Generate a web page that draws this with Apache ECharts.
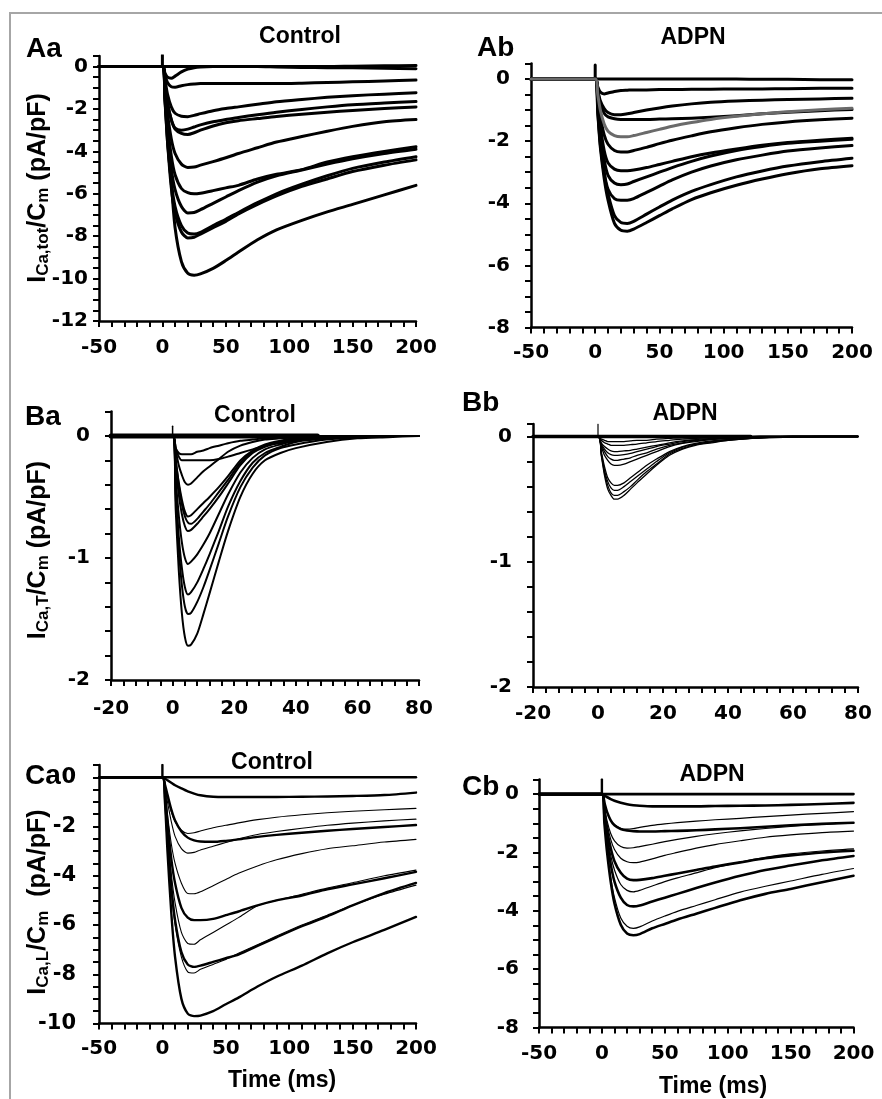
<!DOCTYPE html>
<html><head><meta charset="utf-8">
<script src="https://cdn.jsdelivr.net/npm/echarts/dist/echarts.min.js"></script>
<style>html,body{margin:0;padding:0;background:#fff}#c{width:882px;height:1099px}</style>
</head><body><div id="c"></div>
<script>
// ---------- time bases ----------
const tAC = [-50, 0, 2, 4, 7, 10, 15, 20, 25, 30, 40, 50, 60, 75, 90, 110, 130, 150, 175, 200];
const tB  = [-20, 0, 1, 2, 3, 4, 5, 6, 8, 10, 12, 15, 18, 22, 26, 30, 35, 40, 50, 60, 70, 80];

// ---------- Aa: I_Ca,tot control ----------
const Aa = [
 [0,0,0,0,0,0,0,0,0,0,0,0,0,0,0,0,0,0.02,0.04,0.05],
 [0,0,-0.3,-0.5,-0.55,-0.45,-0.25,-0.12,-0.05,-0.02,0,0,0,0,-0.02,-0.04,-0.05,-0.06,-0.08,-0.1],
 [0,0,-0.4,-0.75,-0.95,-0.97,-0.9,-0.85,-0.82,-0.8,-0.8,-0.8,-0.8,-0.8,-0.8,-0.78,-0.75,-0.72,-0.68,-0.63],
 [0,0,-0.6,-1.3,-1.9,-2.2,-2.34,-2.36,-2.3,-2.22,-2.08,-1.98,-1.9,-1.78,-1.66,-1.55,-1.45,-1.37,-1.3,-1.23],
 [0,0,-0.8,-1.7,-2.5,-2.9,-3.0,-2.95,-2.85,-2.75,-2.6,-2.5,-2.4,-2.27,-2.15,-2.02,-1.9,-1.8,-1.72,-1.65],
 [0,0,-0.8,-1.7,-2.5,-2.95,-3.15,-3.2,-3.12,-3.0,-2.8,-2.65,-2.55,-2.45,-2.35,-2.25,-2.15,-2.07,-1.98,-1.9],
 [0,0,-1.0,-2.2,-3.4,-4.1,-4.6,-4.76,-4.74,-4.65,-4.48,-4.3,-4.1,-3.83,-3.56,-3.3,-3.05,-2.82,-2.6,-2.5],
 [0,0,-1.2,-2.7,-4.2,-5.1,-5.75,-5.95,-6.0,-5.97,-5.85,-5.72,-5.6,-5.3,-5.08,-4.86,-4.5,-4.25,-4.0,-3.78],
 [0,0,-1.3,-3.0,-4.8,-5.8,-6.6,-6.9,-6.88,-6.75,-6.45,-6.15,-5.85,-5.45,-5.15,-4.88,-4.6,-4.35,-4.1,-3.9],
 [0,0,-1.4,-3.3,-5.4,-6.6,-7.5,-7.85,-7.9,-7.82,-7.5,-7.2,-6.88,-6.42,-6.0,-5.55,-5.15,-4.8,-4.5,-4.25],
 [0,0,-1.5,-3.5,-5.7,-6.9,-7.8,-8.08,-8.05,-7.9,-7.6,-7.3,-6.95,-6.5,-6.1,-5.65,-5.3,-4.95,-4.65,-4.4],
 [0,0,-1.6,-3.5,-5.5,-7.6,-9.2,-9.75,-9.84,-9.78,-9.52,-9.15,-8.75,-8.17,-7.7,-7.25,-6.85,-6.5,-6.05,-5.6]
];
// ---------- Ab: I_Ca,tot ADPN (index 4 is the grey trace) ----------
const Ab = [
 [0,0,0,0,0,0,0,0,0,0,0,0,0,0,0,0,-0.01,-0.01,-0.02,-0.02],
 [0,0,-0.25,-0.42,-0.48,-0.45,-0.4,-0.37,-0.36,-0.35,-0.35,-0.34,-0.34,-0.33,-0.33,-0.32,-0.32,-0.31,-0.3,-0.3],
 [0,0,-0.35,-0.7,-0.95,-1.08,-1.15,-1.15,-1.12,-1.08,-1.0,-0.93,-0.87,-0.8,-0.75,-0.71,-0.68,-0.66,-0.64,-0.62],
 [0,0,-0.4,-0.8,-1.1,-1.22,-1.28,-1.3,-1.3,-1.3,-1.3,-1.29,-1.28,-1.26,-1.23,-1.18,-1.12,-1.07,-1.02,-0.98],
 [0,0,-0.5,-1.0,-1.45,-1.68,-1.82,-1.86,-1.86,-1.82,-1.72,-1.62,-1.52,-1.4,-1.3,-1.2,-1.12,-1.05,-0.99,-0.94],
 [0,0,-0.6,-1.2,-1.8,-2.1,-2.3,-2.35,-2.35,-2.3,-2.2,-2.08,-1.97,-1.83,-1.7,-1.57,-1.46,-1.38,-1.31,-1.26],
 [0,0,-0.7,-1.5,-2.3,-2.7,-2.9,-2.95,-2.95,-2.93,-2.85,-2.75,-2.65,-2.5,-2.38,-2.25,-2.13,-2.04,-1.97,-1.91],
 [0,0,-0.8,-1.7,-2.6,-3.1,-3.35,-3.4,-3.38,-3.3,-3.15,-3.0,-2.85,-2.65,-2.48,-2.3,-2.17,-2.07,-2.0,-1.94],
 [0,0,-0.9,-2.0,-3.0,-3.55,-3.85,-3.9,-3.9,-3.85,-3.65,-3.45,-3.25,-3.0,-2.8,-2.6,-2.45,-2.32,-2.22,-2.14],
 [0,0,-1.05,-2.1,-3.05,-3.7,-4.4,-4.62,-4.65,-4.58,-4.35,-4.12,-3.9,-3.62,-3.4,-3.15,-2.96,-2.8,-2.66,-2.55],
 [0,0,-1.1,-2.2,-3.2,-3.9,-4.65,-4.87,-4.9,-4.83,-4.62,-4.4,-4.18,-3.88,-3.66,-3.42,-3.22,-3.05,-2.89,-2.79]
];
// ---------- Ba: I_Ca,T control ----------
const Ba = [
 [0,0,0,0,0,0,0,0,0,0,0,0,0,0,0,0,0,0,0,0,0,0],
 [0,0,-0.1,-0.14,-0.15,-0.15,-0.15,-0.15,-0.13,-0.12,-0.1,-0.08,-0.06,-0.04,-0.03,-0.02,-0.015,-0.01,0,0,0,0],
 [0,0,-0.1,-0.17,-0.2,-0.2,-0.2,-0.2,-0.2,-0.2,-0.2,-0.19,-0.17,-0.14,-0.11,-0.08,-0.06,-0.04,-0.02,-0.01,0,0],
 [0,0,-0.12,-0.24,-0.32,-0.38,-0.4,-0.39,-0.34,-0.29,-0.25,-0.19,-0.13,-0.08,-0.05,-0.03,-0.02,-0.01,0,0,0,0],
 [0,0,-0.2,-0.38,-0.52,-0.62,-0.66,-0.65,-0.6,-0.55,-0.5,-0.42,-0.33,-0.2,-0.12,-0.07,-0.04,-0.02,-0.01,0,0,0],
 [0,0,-0.2,-0.4,-0.56,-0.66,-0.71,-0.72,-0.68,-0.62,-0.56,-0.46,-0.36,-0.22,-0.13,-0.08,-0.05,-0.03,-0.01,0,0,0],
 [0,0,-0.25,-0.48,-0.64,-0.74,-0.78,-0.77,-0.72,-0.66,-0.6,-0.5,-0.39,-0.24,-0.14,-0.09,-0.05,-0.03,-0.01,0,0,0],
 [0,0,-0.35,-0.65,-0.87,-1.0,-1.05,-1.03,-0.97,-0.89,-0.8,-0.64,-0.48,-0.3,-0.18,-0.11,-0.07,-0.04,-0.02,-0.01,0,0],
 [0,0,-0.45,-0.82,-1.08,-1.24,-1.3,-1.28,-1.2,-1.09,-0.97,-0.78,-0.58,-0.37,-0.22,-0.14,-0.09,-0.05,-0.02,-0.01,0,0],
 [0,0,-0.5,-0.92,-1.22,-1.4,-1.46,-1.45,-1.36,-1.24,-1.1,-0.88,-0.66,-0.42,-0.26,-0.16,-0.1,-0.07,-0.03,-0.01,0,0],
 [0,0,-0.6,-1.1,-1.45,-1.65,-1.72,-1.71,-1.62,-1.46,-1.29,-1.03,-0.78,-0.5,-0.31,-0.2,-0.14,-0.1,-0.05,-0.02,-0.01,0]
];
// ---------- Bb: I_Ca,T ADPN ----------
const Bb = [
 [0,0,0,0,0,0,0,0,0,0,0,0,0,0,0,0,0,0,0,0,0,0],
 [0,0,-0.02,-0.03,-0.04,-0.04,-0.04,-0.04,-0.04,-0.035,-0.03,-0.03,-0.02,-0.015,-0.01,-0.01,-0.005,0,0,0,0,0],
 [0,0,-0.03,-0.05,-0.06,-0.07,-0.07,-0.07,-0.07,-0.065,-0.06,-0.05,-0.04,-0.03,-0.02,-0.015,-0.01,-0.005,0,0,0,0],
 [0,0,-0.05,-0.08,-0.1,-0.115,-0.12,-0.12,-0.115,-0.11,-0.1,-0.085,-0.07,-0.05,-0.035,-0.025,-0.015,-0.01,0,0,0,0],
 [0,0,-0.06,-0.1,-0.13,-0.145,-0.15,-0.15,-0.145,-0.135,-0.12,-0.1,-0.08,-0.06,-0.04,-0.03,-0.02,-0.01,0,0,0,0],
 [0,0,-0.07,-0.12,-0.16,-0.18,-0.19,-0.19,-0.18,-0.17,-0.15,-0.13,-0.1,-0.07,-0.05,-0.035,-0.02,-0.015,-0.005,0,0,0],
 [0,0,-0.08,-0.15,-0.19,-0.22,-0.23,-0.23,-0.22,-0.2,-0.18,-0.15,-0.12,-0.08,-0.055,-0.04,-0.025,-0.015,-0.005,0,0,0],
 [0,0,-0.12,-0.24,-0.33,-0.37,-0.39,-0.39,-0.37,-0.33,-0.29,-0.23,-0.18,-0.12,-0.08,-0.055,-0.035,-0.025,-0.01,0,0,0],
 [0,0,-0.13,-0.27,-0.36,-0.41,-0.43,-0.43,-0.4,-0.36,-0.32,-0.26,-0.2,-0.13,-0.085,-0.06,-0.04,-0.025,-0.01,0,0,0],
 [0,0,-0.14,-0.29,-0.39,-0.45,-0.47,-0.47,-0.44,-0.4,-0.35,-0.28,-0.22,-0.14,-0.095,-0.065,-0.045,-0.03,-0.01,-0.005,0,0],
 [0,0,-0.15,-0.31,-0.42,-0.47,-0.5,-0.5,-0.47,-0.42,-0.37,-0.3,-0.23,-0.15,-0.1,-0.07,-0.05,-0.03,-0.01,-0.005,0,0]
];
// ---------- Ca: I_Ca,L control ----------
const Ca = [
 [0,0,0,0,0,0,0,0,0,0,0,0,0,0,0,0,0,0,0,0],
 [0,0,-0.05,-0.12,-0.22,-0.32,-0.45,-0.57,-0.66,-0.73,-0.79,-0.8,-0.8,-0.8,-0.8,-0.79,-0.78,-0.76,-0.72,-0.62],
 [0,0,-0.3,-0.8,-1.4,-1.8,-2.15,-2.28,-2.25,-2.18,-2.05,-1.95,-1.85,-1.72,-1.62,-1.52,-1.44,-1.38,-1.32,-1.26],
 [0,0,-0.3,-0.7,-1.3,-1.75,-2.2,-2.45,-2.56,-2.61,-2.62,-2.58,-2.52,-2.42,-2.34,-2.25,-2.17,-2.1,-2.02,-1.94],
 [0,0,-0.4,-1.0,-1.8,-2.4,-2.9,-3.08,-3.05,-2.95,-2.8,-2.65,-2.5,-2.32,-2.2,-2.07,-1.95,-1.86,-1.77,-1.7],
 [0,0,-0.5,-1.5,-2.7,-3.5,-4.3,-4.72,-4.73,-4.65,-4.4,-4.15,-3.9,-3.6,-3.35,-3.1,-2.9,-2.78,-2.63,-2.52],
 [0,0,-0.6,-1.8,-3.3,-4.3,-5.3,-5.7,-5.8,-5.8,-5.75,-5.6,-5.45,-5.2,-5.0,-4.8,-4.55,-4.35,-4.1,-3.84],
 [0,0,-0.7,-2.1,-3.9,-5.1,-6.3,-6.75,-6.78,-6.6,-6.3,-6.0,-5.7,-5.22,-5.0,-4.75,-4.5,-4.28,-4.0,-3.77],
 [0,0,-0.8,-2.4,-4.4,-5.8,-7.1,-7.6,-7.7,-7.65,-7.5,-7.35,-7.2,-6.85,-6.5,-6.05,-5.65,-5.2,-4.7,-4.29],
 [0,0,-0.8,-2.5,-4.6,-6.0,-7.3,-7.9,-7.95,-7.8,-7.6,-7.4,-7.15,-6.8,-6.45,-6.0,-5.6,-5.2,-4.75,-4.38],
 [0,0,-1.0,-3.0,-5.5,-7.3,-9.0,-9.6,-9.7,-9.68,-9.5,-9.22,-8.95,-8.5,-8.1,-7.65,-7.15,-6.7,-6.2,-5.67]
];
// ---------- Cb: I_Ca,L ADPN ----------
const Cb = [
 [0,0,0,0,0,0,0,0,0,0,0,0,0,0,0,0,0,0,0,0],
 [0,0,-0.05,-0.1,-0.17,-0.23,-0.3,-0.35,-0.38,-0.4,-0.42,-0.42,-0.42,-0.42,-0.41,-0.4,-0.39,-0.37,-0.34,-0.3],
 [0,0,-0.3,-0.6,-0.9,-1.05,-1.17,-1.2,-1.18,-1.14,-1.07,-1.02,-0.98,-0.93,-0.88,-0.83,-0.77,-0.72,-0.66,-0.6],
 [0,0,-0.3,-0.6,-0.9,-1.07,-1.2,-1.25,-1.27,-1.28,-1.28,-1.27,-1.26,-1.24,-1.21,-1.17,-1.12,-1.07,-1.02,-0.98],
 [0,0,-0.45,-0.9,-1.35,-1.6,-1.8,-1.85,-1.84,-1.8,-1.72,-1.63,-1.55,-1.45,-1.36,-1.26,-1.18,-1.11,-1.04,-1.0],
 [0,0,-0.5,-1.0,-1.55,-1.9,-2.2,-2.32,-2.35,-2.33,-2.22,-2.1,-2.0,-1.85,-1.73,-1.6,-1.48,-1.4,-1.32,-1.27],
 [0,0,-0.6,-1.2,-1.85,-2.3,-2.7,-2.9,-2.95,-2.94,-2.88,-2.8,-2.72,-2.6,-2.48,-2.34,-2.2,-2.1,-2.0,-1.94],
 [0,0,-0.7,-1.35,-2.1,-2.6,-3.1,-3.3,-3.35,-3.3,-3.15,-3.0,-2.87,-2.7,-2.52,-2.33,-2.17,-2.05,-1.95,-1.88],
 [0,0,-0.77,-1.55,-2.4,-3.0,-3.55,-3.8,-3.85,-3.82,-3.68,-3.55,-3.42,-3.22,-3.03,-2.8,-2.6,-2.45,-2.27,-2.12],
 [0,0,-0.92,-1.85,-2.85,-3.55,-4.25,-4.53,-4.6,-4.55,-4.35,-4.18,-4.02,-3.82,-3.62,-3.36,-3.16,-2.98,-2.75,-2.55],
 [0,0,-1.0,-1.95,-3.0,-3.75,-4.48,-4.78,-4.84,-4.8,-4.6,-4.45,-4.3,-4.1,-3.9,-3.64,-3.42,-3.25,-3.02,-2.8]
];
// stimulus artefacts at t = 0
const spikeT = [0, 0];
const spikeAa = [0, 0.55], spikeAb = [0, 0.45], spikeBa = [0, 0.08], spikeBb = [0, 0.1], spikeCa = [0, 0.5], spikeCb = [0, 0.5];
// noisy baseline band in B panels
const baseBT = [-20, 47];
const baseBV = [0, 0];

// axis label steps
const yLabAC = 2, xLabAC = 50, yLabB = 1, xLabB = 20;

// ---------- layout / style ----------
const TICKFONT = 'DejaVu Sans';
const TXTFONT = 'Liberation Sans';
const grids = [
  {left: 99,  top: 56,    width: 317,   height: 265},
  {left: 531, top: 63.5,  width: 321,   height: 264},
  {left: 111, top: 411.5, width: 308,   height: 268.5},
  {left: 533, top: 424,   width: 325,   height: 263},
  {left: 99,  top: 765,   width: 317,   height: 258.5},
  {left: 539, top: 779.5, width: 314.5, height: 248}
];
function isMult(v, s) { const q = v / s; return Math.abs(q - Math.round(q)) < 1e-6; }
function mkAxis(gi, min, max, step, lab, margin, fs) {
  return {type: 'value', gridIndex: gi, min: min, max: max, interval: step,
    axisLine: {onZero: false, lineStyle: {color: '#000', width: 2.5}},
    axisTick: {show: true, inside: false, length: 6, lineStyle: {color: '#000', width: 2}},
    splitLine: {show: false},
    axisLabel: {color: '#000', fontFamily: TICKFONT, fontWeight: 'bold', fontSize: fs, margin: margin,
      formatter: v => isMult(v, lab) ? String(Math.round(v)) : ''}};
}
const xAxis = [
  mkAxis(0, -50, 200, 10, xLabAC, 17, 20), mkAxis(1, -50, 200, 10, xLabAC, 15, 20),
  mkAxis(2, -20, 80, 4, xLabB, 19, 20),    mkAxis(3, -20, 80, 4, xLabB, 17, 20),
  mkAxis(4, -50, 200, 10, xLabAC, 15, 20), mkAxis(5, -50, 200, 10, xLabAC, 16, 20)
];
const yAxis = [
  mkAxis(0, -12, 0.5, 0.5, yLabAC, 11, 20), mkAxis(1, -8, 0.5, 0.5, yLabAC, 21, 20),
  mkAxis(2, -2, 0.2, 0.2, yLabB, 21, 20),   mkAxis(3, -2, 0.1, 0.2, yLabB, 21, 20),
  mkAxis(4, -10, 0.5, 0.5, yLabAC, 23, 21), mkAxis(5, -8, 0.5, 0.5, yLabAC, 20, 20)
];
const series = [];
function line(gi, ts, vs, width, color, z) {
  series.push({type: 'line', xAxisIndex: gi, yAxisIndex: gi, data: ts.map((t, i) => [t, vs[i]]),
    symbol: 'none', showSymbol: false, smooth: 0.25, silent: true, animation: false, z: z || 2,
    lineStyle: {color: color || '#000', width: width, join: 'round', cap: 'round'}});
}
const thickThin = [1, 1, 0, 1, 0, 0, 1, 0, 1, 0, 1];
Aa.forEach(v => line(0, tAC, v, 3));
line(0, spikeT, spikeAa, 3);
Ab.forEach((v, k) => { if (k !== 4) line(1, tAC, v, 3); });
line(1, tAC, Ab[4], 3, '#6a6a6a', 5);
line(1, spikeT, spikeAb, 3);
line(2, baseBT, baseBV, 5);
Ba.forEach(v => line(2, tB, v, 2));
line(2, spikeT, spikeBa, 1.5);
line(3, baseBT, baseBV, 3.5);
Bb.forEach(v => line(3, tB, v, 1.3));
line(3, spikeT, spikeBb, 1.2);
Ca.forEach((v, k) => line(4, tAC, v, thickThin[k] ? 2.4 : 1.1));
line(4, spikeT, spikeCa, 2.4);
Cb.forEach((v, k) => line(5, tAC, v, thickThin[k] ? 2.6 : 1.2));
line(5, spikeT, spikeCb, 2.4);

// ---------- texts ----------
function txt(x, y, s, size, align) {
  return {type: 'text', x: x, y: y, silent: true,
    style: {text: s, fill: '#000', font: 'bold ' + size + 'px "' + TXTFONT + '"', textAlign: align || 'center', textVerticalAlign: 'middle'}};
}
function ytitle(x, y, sub, gap) {
  return {type: 'text', x: x, y: y, rotation: Math.PI / 2, silent: true,
    style: {text: '{m|I}{s|' + sub + '}{m|/C}{s|m}{m|' + gap + '(pA/pF)}', textAlign: 'center', textVerticalAlign: 'middle',
      rich: {m: {fontFamily: TXTFONT, fontWeight: 'bold', fontSize: 25, lineHeight: 28, fill: '#000'},
             s: {fontFamily: TXTFONT, fontWeight: 'bold', fontSize: 17, lineHeight: 17, verticalAlign: 'bottom', fill: '#000'}}}};
}
const graphic = [
  {type: 'rect', shape: {x: 10, y: 13, width: 900, height: 1200}, silent: true, style: {fill: 'none', stroke: '#a6a6a6', lineWidth: 2}},
  txt(26, 49, 'Aa', 28, 'left'), txt(300, 37, 'Control', 23),
  txt(477, 48, 'Ab', 28, 'left'), txt(693, 38, 'ADPN', 23),
  txt(25, 417, 'Ba', 28, 'left'), txt(255, 416, 'Control', 23),
  txt(462, 403, 'Bb', 28, 'left'), txt(685, 414, 'ADPN', 23),
  txt(25, 776, 'Ca', 28, 'left'), txt(272, 763, 'Control', 23),
  txt(462, 787, 'Cb', 28, 'left'), txt(712, 775, 'ADPN', 23),
  txt(282, 1081, 'Time (ms)', 23), txt(713, 1087, 'Time (ms)', 23),
  ytitle(38, 188, 'Ca,tot', ' '), ytitle(38, 550, 'Ca,T', ' '), ytitle(38, 902, 'Ca,L', '  ')
];

const chart = echarts.init(document.getElementById('c'), null, {renderer: 'canvas'});
chart.setOption({animation: false, backgroundColor: '#fff', grid: grids, xAxis: xAxis, yAxis: yAxis, series: series, graphic: graphic});
</script></body></html>
